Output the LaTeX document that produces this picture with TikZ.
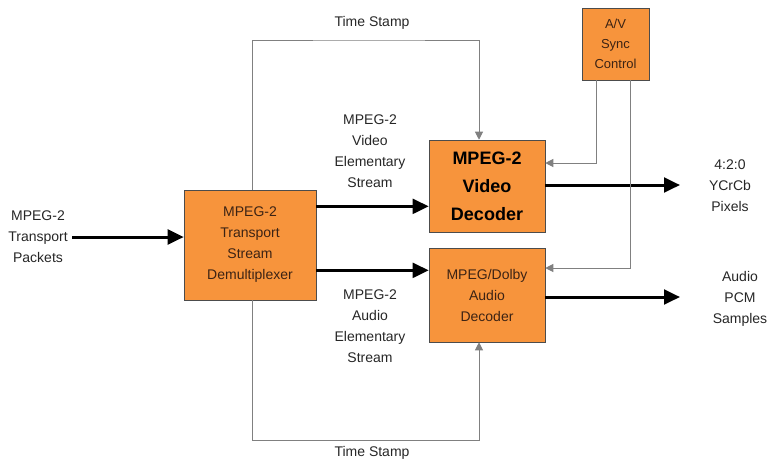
\documentclass[tikz,border=0pt]{standalone}
\usepackage{fontspec}
\setsansfont{Liberation Sans}
\usetikzlibrary{arrows.meta, positioning}
\definecolor{boxfill}{RGB}{247,148,60}
\definecolor{boxtext}{RGB}{60,35,20}
\tikzset{x=0.75pt, y=-0.75pt, % one unit is one pixel of the reference
font=\sffamily\fontsize{10.5}{15.75}\selectfont,
block/.style={draw=black!70, fill=boxfill, text=boxtext, align=center, inner sep=2pt}, % the orange boxes
label/.style={align=center, text=black!85}, % free texts
data/.style={line width=2.25pt, -{Triangle[length=12pt, width=11pt]}}, % bold data flow
ctrl/.style={draw=black!50, line width=0.75pt, -{Triangle[length=6pt, width=6pt]}, color=black!50}, % thin grey control lines
}
\begin{document}
\begin{tikzpicture}
    \useasboundingbox (0,0) rectangle (770,462);
    \node[block, minimum width=99pt, minimum height=82.5pt] (demux) at (250,245) {MPEG-2\\Transport\\Stream\\Demultiplexer};
    \node[block, minimum width=87pt, minimum height=69pt, text=black, font=\sffamily\bfseries\fontsize{13.5}{21}\selectfont] (video) at (487,186) {MPEG-2\\Video\\Decoder};
    \node[block, minimum width=87pt, minimum height=70.5pt] (audio) at (487,295) {MPEG/Dolby\\Audio\\Decoder};
    \node[block, minimum width=50pt, minimum height=54pt, font=\sffamily\fontsize{9.75}{15}\selectfont] (sync) at (615.5,44) {A/V\\Sync\\Control};

    \node[label] (packets) at (38,237) {MPEG-2\\Transport\\Packets};
    \node[label] (vstream) at (370,151) {MPEG-2\\Video\\Elementary\\Stream};
    \node[label] (astream) at (370,326) {MPEG-2\\Audio\\Elementary\\Stream};
    \node[label] (pixels) at (730,186) {4:2:0\\YCrCb\\Pixels};
    \node[label] (pcm) at (740,299) {Audio\\PCM\\Samples};
    \node[label] (tstop) at (372,23) {Time Stamp};
    \node[label] (tsbot) at (372,453) {Time Stamp};

    \coordinate (vout) at (680,185);
    \coordinate (aout) at (680,297);
    \coordinate (topturn) at (372,40);
    \coordinate (botturn) at (372,440);

    \draw[data] (packets.east) -- (packets.east -| demux.west);
    \draw[data] ([yshift=29pt]demux.east) -- ([yshift=29pt]demux.east -| video.west);
    \draw[data] ([yshift=-19pt]demux.east) -- ([yshift=-19pt]demux.east -| audio.west);
    \draw[data] (video.east |- vout) -- (vout);
    \draw[data] (audio.east |- aout) -- (aout);

    \draw[ctrl] ([xshift=1.5pt]demux.north) |- (topturn) -| ([xshift=-6pt]video.north);
    \draw[ctrl] ([xshift=1.5pt]demux.south) |- (botturn) -| ([xshift=-6pt]audio.south);
    \draw[ctrl] ([xshift=-14.6pt]sync.south) |- ([yshift=17.25pt]video.east);
    \draw[ctrl] ([xshift=10.9pt]sync.south) |- ([yshift=20.25pt]audio.east);
\end{tikzpicture}
\end{document}
